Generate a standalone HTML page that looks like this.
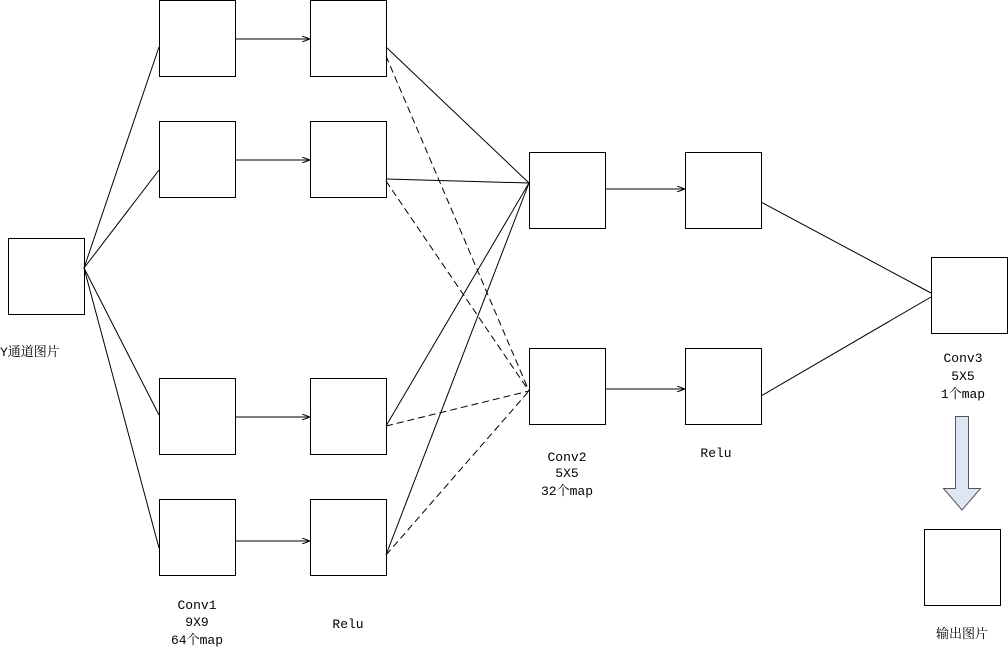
<!DOCTYPE html>
<html><head><meta charset="utf-8"><style>
body{margin:0;background:#fff;width:1008px;height:653px;overflow:hidden}
text{font-family:"Liberation Mono","Noto Serif CJK SC","Noto Sans CJK SC",monospace;font-size:13px;fill:#000}
</style></head><body>
<svg width="1008" height="653" viewBox="0 0 1008 653" xmlns="http://www.w3.org/2000/svg">
<defs><marker id="a" markerWidth="8" markerHeight="6" refX="8" refY="3" orient="auto" markerUnits="userSpaceOnUse"><path d="M0,0 L8,3 L0,6" fill="none" stroke="#000" stroke-width="1"/></marker></defs>
<g fill="#fff" stroke="#000" stroke-width="1">
<rect x="8.5" y="238.5" width="76" height="76"/>
<rect x="159.5" y="0.5" width="76" height="76"/>
<rect x="159.5" y="121.5" width="76" height="76"/>
<rect x="159.5" y="378.5" width="76" height="76"/>
<rect x="159.5" y="499.5" width="76" height="76"/>
<rect x="310.5" y="0.5" width="76" height="76"/>
<rect x="310.5" y="121.5" width="76" height="76"/>
<rect x="310.5" y="378.5" width="76" height="76"/>
<rect x="310.5" y="499.5" width="76" height="76"/>
<rect x="529.5" y="152.5" width="76" height="76"/>
<rect x="529.5" y="348.5" width="76" height="76"/>
<rect x="685.5" y="152.5" width="76" height="76"/>
<rect x="685.5" y="348.5" width="76" height="76"/>
<rect x="931.5" y="257.5" width="76" height="76"/>
<rect x="924.5" y="529.5" width="76" height="76"/>
</g>
<g stroke="#000" stroke-width="1" fill="none">
<line x1="84" y1="268" x2="159" y2="47"/>
<line x1="84" y1="268" x2="159" y2="170"/>
<line x1="84" y1="268" x2="159" y2="415"/>
<line x1="84" y1="268" x2="159" y2="548"/>
<line x1="235" y1="39" x2="310" y2="39" marker-end="url(#a)"/>
<line x1="235" y1="160" x2="310" y2="160" marker-end="url(#a)"/>
<line x1="235" y1="417" x2="310" y2="417" marker-end="url(#a)"/>
<line x1="235" y1="541" x2="310" y2="541" marker-end="url(#a)"/>
<line x1="605" y1="189" x2="685" y2="189" marker-end="url(#a)"/>
<line x1="605" y1="389" x2="685" y2="389" marker-end="url(#a)"/>
<line x1="386" y1="47" x2="529" y2="183"/>
<line x1="386" y1="179" x2="529" y2="183"/>
<line x1="386" y1="426" x2="529" y2="183"/>
<line x1="386" y1="555" x2="529" y2="183"/>
<g stroke-dasharray="7,4">
<line x1="386" y1="56" x2="529" y2="391"/>
<line x1="386" y1="181" x2="529" y2="391"/>
<line x1="386" y1="426" x2="529" y2="391"/>
<line x1="386" y1="555" x2="529" y2="391"/>
</g>
<line x1="761" y1="202" x2="931" y2="293"/>
<line x1="761" y1="396" x2="931" y2="297"/>
</g>
<path d="M955.5,416.5 H968.5 V488.5 H980.5 L962,510 L943.5,488.5 H955.5 Z" fill="#dde6f2" stroke="#555" stroke-width="1"/>
<text x="0" y="356">Y通道图片</text>
<text x="197" y="609" text-anchor="middle">Conv1</text>
<text x="197" y="626" text-anchor="middle">9X9</text>
<text x="197" y="644" text-anchor="middle">64个map</text>
<text x="348" y="628" text-anchor="middle">Relu</text>
<text x="567" y="461" text-anchor="middle">Conv2</text>
<text x="567" y="477" text-anchor="middle">5X5</text>
<text x="567" y="495" text-anchor="middle">32个map</text>
<text x="716" y="457" text-anchor="middle">Relu</text>
<text x="963" y="362" text-anchor="middle">Conv3</text>
<text x="963" y="380" text-anchor="middle">5X5</text>
<text x="963" y="398" text-anchor="middle">1个map</text>
<text x="962" y="638" text-anchor="middle">输出图片</text>
</svg>
</body></html>
